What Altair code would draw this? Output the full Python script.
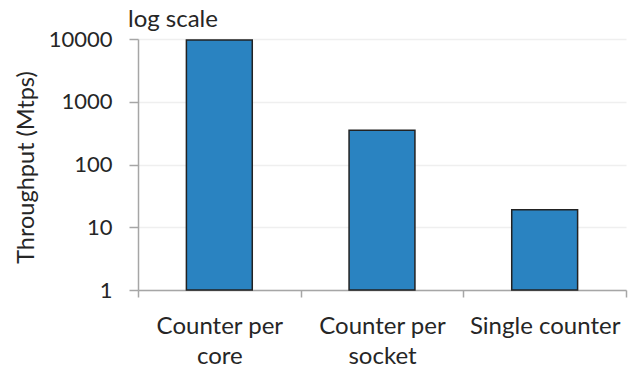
import altair as alt
import pandas as pd

# Throughput of each counter layout, in millions of transactions per second
categories = ["Counter per\ncore", "Counter per\nsocket", "Single counter"]
throughput = [9600, 350, 19]
y_ticks = [1, 10, 100, 1000, 10000]

df = pd.DataFrame({"layout": categories, "mtps": throughput})

FONT = "Lato"
TEXT = "#262626"
AXIS = "#a6a6a6"

bars = alt.Chart(df).mark_bar(
    color="#2a83c1", stroke="#222222", strokeWidth=1.5, width={"band": 0.405}
).encode(
    x=alt.X(
        "layout:N",
        sort=categories,
        title=None,
        scale=alt.Scale(paddingInner=0, paddingOuter=0),
        axis=alt.Axis(
            labelAngle=0,
            labelExpr="split(datum.label, '\\n')",
            labelFontSize=24,
            labelFont=FONT,
            labelColor=TEXT,
            labelLineHeight=30,
            labelPadding=17,
            labelBaseline="top",
            tickBand="extent",
            tickSize=7,
            tickColor=AXIS,
            tickWidth=1.5,
            domainColor=AXIS,
            domainWidth=1.5,
            grid=False,
        ),
    ),
    y=alt.Y(
        "mtps:Q",
        scale=alt.Scale(type="log", domain=[1, 10000], nice=False),
        title="Throughput (Mtps)",
        axis=alt.Axis(
            values=y_ticks,
            format="d",
            labelFontSize=22,
            labelFont=FONT,
            labelColor=TEXT,
            labelPadding=17,
            tickSize=9,
            tickColor=AXIS,
            tickWidth=1.5,
            domainColor=AXIS,
            domainWidth=1.5,
            gridColor="#efefef",
            gridWidth=1.5,
            titleFontSize=23.5,
            titleFont=FONT,
            titleFontWeight="normal",
            titleColor=TEXT,
            titleX=-105,
            titleY=128,
            titleAlign="center",
            titleBaseline="alphabetic",
            titleAngle=270,
        ),
    ),
    y2=alt.datum(1),
)

note = alt.Chart(pd.DataFrame({"t": ["log scale"]})).mark_text(
    font=FONT, fontSize=24, color=TEXT, align="left", baseline="alphabetic"
).encode(x=alt.value(-10), y=alt.value(-12), text="t:N")

chart = alt.layer(bars, note).properties(
    width=488,
    height=251,
    autosize=alt.AutoSizeParams(type="none"),
    padding={"left": 138, "top": 39, "right": 3, "bottom": 79},
).configure_view(stroke=None)

chart.save("out.html", embed_options={"renderer": "svg", "actions": False})
